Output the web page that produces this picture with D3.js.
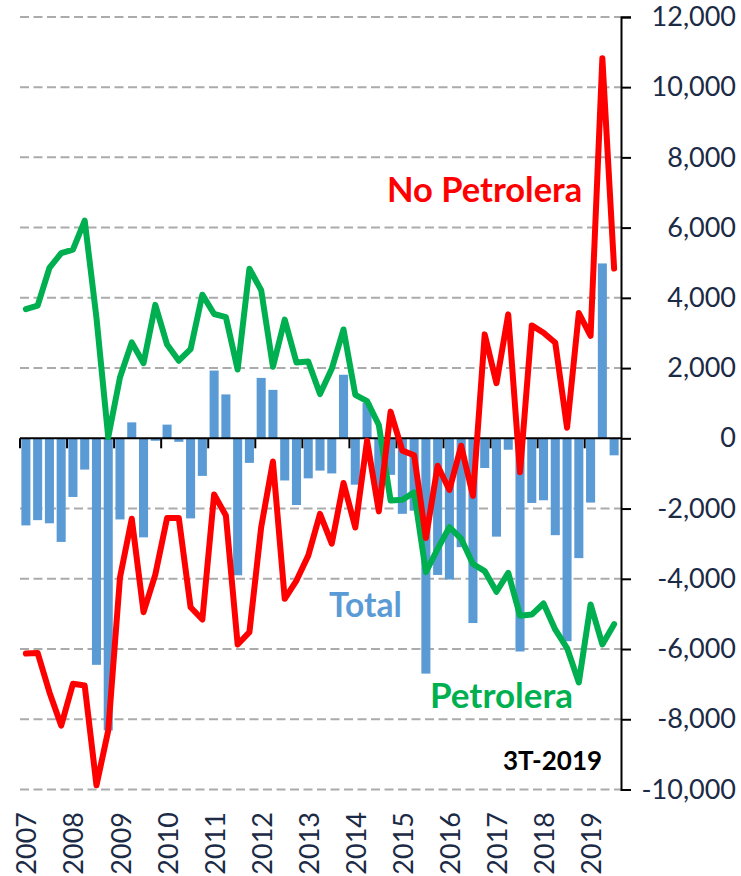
<!DOCTYPE html>
<html><head><meta charset="utf-8">
<script src="https://cdn.jsdelivr.net/npm/d3@7/dist/d3.min.js"></script>
<style>body{margin:0;background:#fff}svg{display:block}</style>
</head><body>
<svg id="chart" width="741" height="876"></svg>
<script>
// ---- data ----
const years = ["2007","2008","2009","2010","2011","2012","2013","2014","2015","2016","2017","2018","2019"];
const quarterNames = ["T1","T2","T3","T4"];
const categories = [];
years.forEach(yr => quarterNames.forEach(q => categories.push(yr + "-" + q)));
categories.length = 51; // through 2019-T3

const total = [-2480,-2330,-2420,-2950,-1670,-890,-6450,-8320,-2310,455,-2820,-70,
  390,-100,-2280,-1070,1930,1250,-3900,-700,1720,1380,-1200,-1900,
  -1140,-920,-1000,1810,-1320,1007,-1700,-1040,-2150,-2060,-6700,-3890,
  -4020,-3100,-5260,-845,-2800,-325,-6070,-1840,-1764,-2758,-5777,-3411,
  -1830,4980,-484];
const petrolera = [3680,3780,4850,5270,5370,6200,3430,30,1740,2730,2140,3800,
  2670,2210,2540,4090,3540,3450,1960,4830,4220,2040,3380,2160,
  2190,1260,1980,3100,1240,1060,380,-1770,-1750,-1540,-3810,-3150,
  -2530,-2860,-3580,-3780,-4370,-3830,-5050,-5020,-4705,-5450,-5973,-6953,
  -4731,-5868,-5293];
const noPetrolera = [-6130,-6110,-7230,-8180,-6990,-7040,-9880,-8320,-3960,-2290,-4950,-3880,
  -2270,-2270,-4810,-5160,-1600,-2200,-5870,-5520,-2530,-660,-4570,-4050,
  -3340,-2150,-3000,-1270,-2540,-65,-2080,760,-350,-480,-2840,-780,
  -1470,-210,-1640,2960,1570,3530,-967,3215,3006,2720,300,3568,
  2915,10822,4836];
const yTicks = [-10000,-8000,-6000,-4000,-2000,0,2000,4000,6000,8000,10000,12000];
const seriesLabels = {total:"Total", petrolera:"Petrolera", noPetrolera:"No Petrolera", period:"3T-2019"};

// ---- layout ----
const svg = d3.select("#chart");
const plotLeft = 20, plotRight = 620, plotTop = 16.9, plotBottom = 789.5;
const axisX = 621;
const textColor = "#1b2a45";
const font = "Lato, 'Open Sans', sans-serif";

const x = d3.scaleBand().domain(categories).range([plotLeft, plotRight]).paddingInner(0.23).paddingOuter(0.115);
const y = d3.scaleLinear().domain([-10000, 12000]).range([plotBottom, plotTop]);
const cx = c => x(c) + x.bandwidth() / 2;

// gridlines
svg.append("g").selectAll("line").data(yTicks.filter(d => d !== 0)).join("line")
  .attr("x1", plotLeft).attr("x2", axisX).attr("y1", d => y(d)).attr("y2", d => y(d))
  .attr("stroke", "#ababab").attr("stroke-width", 2).attr("stroke-dasharray", "9,4.5");

// bars
svg.append("g").selectAll("rect").data(categories).join("rect")
  .attr("x", d => x(d))
  .attr("width", x.bandwidth())
  .attr("y", (d, i) => y(Math.max(0, total[i])))
  .attr("height", (d, i) => Math.abs(y(total[i]) - y(0)))
  .attr("fill", "#5b9bd5");

// zero axis with year ticks
const gx = svg.append("g");
gx.append("line").attr("x1", plotLeft).attr("x2", axisX).attr("y1", y(0)).attr("y2", y(0))
  .attr("stroke", "#000").attr("stroke-width", 2);
const yearStarts = years.map(yr => yr + "-T1");
const halfPad = x.step() * x.paddingInner() / 2;
gx.selectAll("line.tk").data(yearStarts).join("line").attr("class", "tk")
  .attr("x1", d => x(d) - halfPad).attr("x2", d => x(d) - halfPad)
  .attr("y1", y(0)).attr("y2", y(0) + 10)
  .attr("stroke", "#000").attr("stroke-width", 2);

// year labels
svg.append("g").selectAll("text").data(yearStarts).join("text")
  .attr("transform", d => `translate(${cx(d)},812) rotate(-90)`)
  .attr("text-anchor", "end").attr("dominant-baseline", "central")
  .attr("font-family", font).attr("font-size", 27).attr("fill", textColor)
  .text(d => d.slice(0, 4));

// right axis
const fmt = d3.format(",");
const ya = svg.append("g").attr("transform", `translate(${axisX},0)`)
  .call(d3.axisRight(y).tickValues(yTicks).tickSize(10).tickFormat(d => fmt(d).replace("\u2212", "-")));
ya.select(".domain").attr("stroke", "#000").attr("stroke-width", 2);
ya.selectAll(".tick line").attr("stroke", "#000").attr("stroke-width", 2);
ya.selectAll(".tick text").attr("x", 115).attr("text-anchor", "end")
  .attr("font-family", font).attr("font-size", 27).attr("fill", textColor);

// lines
const line = d3.line().x((d, i) => cx(categories[i])).y(d => y(d));
svg.append("path").datum(petrolera).attr("d", line).attr("fill", "none")
  .attr("stroke", "#00b050").attr("stroke-width", 6).attr("stroke-linejoin", "round").attr("stroke-linecap", "round");
svg.append("path").datum(noPetrolera).attr("d", line).attr("fill", "none")
  .attr("stroke", "#ff0000").attr("stroke-width", 6).attr("stroke-linejoin", "round").attr("stroke-linecap", "round");

// labels
const lab = (t, xx, yy, size, color) => svg.append("text").attr("x", xx).attr("y", yy)
  .attr("font-family", font).attr("font-weight", "bold").attr("font-size", size).attr("fill", color).text(t);
lab(seriesLabels.noPetrolera, 387, 202, 34.5, "#ff0000");
lab(seriesLabels.total, 329, 617, 33.5, "#5b9bd5");
lab(seriesLabels.petrolera, 430, 708, 35, "#00b050");
lab(seriesLabels.period, 503, 770, 26, "#000");
</script>
</body></html>
